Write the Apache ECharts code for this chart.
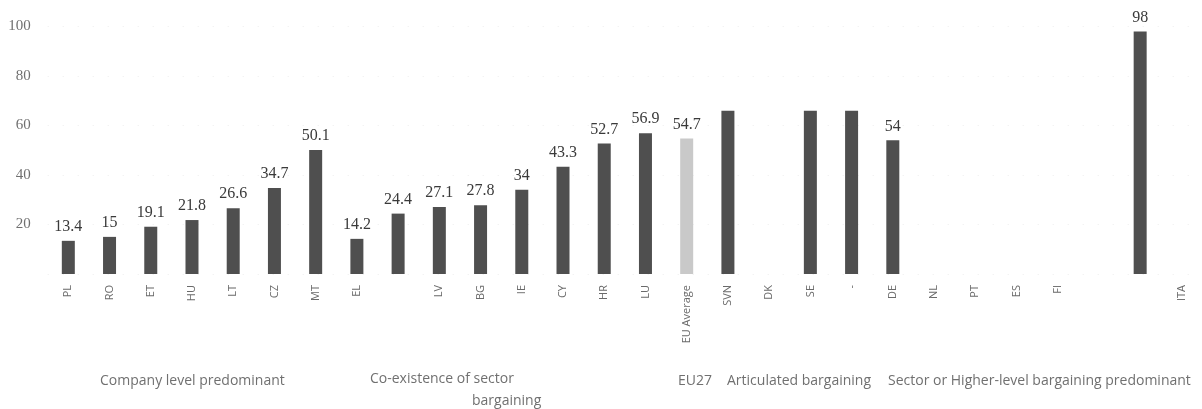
<!DOCTYPE html>
<html>
<head>
<meta charset="utf-8">
<script src="https://cdn.jsdelivr.net/npm/echarts@6/dist/echarts.min.js"></script>
<style>
  html, body { margin: 0; padding: 0; background: #fff; }
  #chart { width: 1202px; height: 409px; }
</style>
</head>
<body>
<div id="chart"></div>
<script>
// Country codes along the category axis (blank slots have no code printed)
const countries = ['PL', 'RO', 'ET', 'HU', 'LT', 'CZ', 'MT', 'EL', '', 'LV', 'BG', 'IE', 'CY', 'HR', 'LU',
  'EU Average', 'SVN', 'DK', 'SE', '-', 'DE', 'NL', 'PT', 'ES', 'FI', '', '', 'ITA'];

// Bar heights per slot (null = no bar)
const values = [13.4, 15, 19.1, 21.8, 26.6, 34.7, 50.1, 14.2, 24.4, 27.1, 27.8, 34, 43.3, 52.7, 56.9,
  54.7, 66, null, 66, 66, 54, null, null, null, null, null, 98, null];

// Slots whose bar carries no value label
const unlabelled = [16, 18, 19];

// Slot highlighted as the EU-wide reference
const averageSlot = 15;

// Value-axis ticks
const yMin = 0, yMax = 100, yStep = 20;

// Bargaining-regime group captions under the axis
const groupCaptions = [
  { text: 'Company level predominant', x: 100, y: 383 },
  { text: 'Co-existence of sector', x: 370, y: 381 },
  { text: 'bargaining', x: 472, y: 403 },
  { text: 'EU27', x: 678, y: 383 },
  { text: 'Articulated bargaining', x: 727, y: 383 },
  { text: 'Sector or Higher-level bargaining predominant', x: 888, y: 383 }
];

const barData = values.map((v, i) => ({
  value: v,
  itemStyle: { color: i === averageSlot ? '#c9c9c9' : '#4f4f4f' },
  label: { show: v !== null && !unlabelled.includes(i) }
}));

const chart = echarts.init(document.getElementById('chart'), null, { renderer: 'canvas' });
chart.setOption({
  animation: false,
  backgroundColor: '#ffffff',
  grid: { left: 47.7, right: -10.5, top: 26.5, bottom: 135, containLabel: false },
  xAxis: {
    type: 'category',
    data: countries,
    axisLine: { show: false },
    axisTick: { show: false },
    axisLabel: {
      interval: 0,
      rotate: 90,
      margin: 11,
      fontFamily: 'Open Sans',
      fontSize: 11,
      color: '#6a6a6a'
    }
  },
  yAxis: {
    type: 'value',
    min: yMin,
    max: yMax,
    interval: yStep,
    axisLine: { show: false },
    axisTick: { show: false },
    axisLabel: {
      showMinLabel: false,
      margin: 17,
      fontFamily: 'Liberation Serif',
      fontSize: 15,
      color: '#707070'
    },
    splitLine: { lineStyle: { color: '#eeeeee', type: [1, 14] } }
  },
  series: [{
    type: 'bar',
    data: barData,
    barWidth: 13,
    label: {
      position: 'top',
      distance: 6,
      fontFamily: 'Liberation Serif',
      fontSize: 16,
      color: '#3a3a3a'
    }
  }],
  graphic: groupCaptions.map(g => ({
    type: 'text',
    left: g.x,
    top: g.y - 9,
    style: {
      text: g.text,
      fontFamily: 'Open Sans',
      fontSize: 14,
      fill: '#707070'
    }
  }))
});
</script>
</body>
</html>
